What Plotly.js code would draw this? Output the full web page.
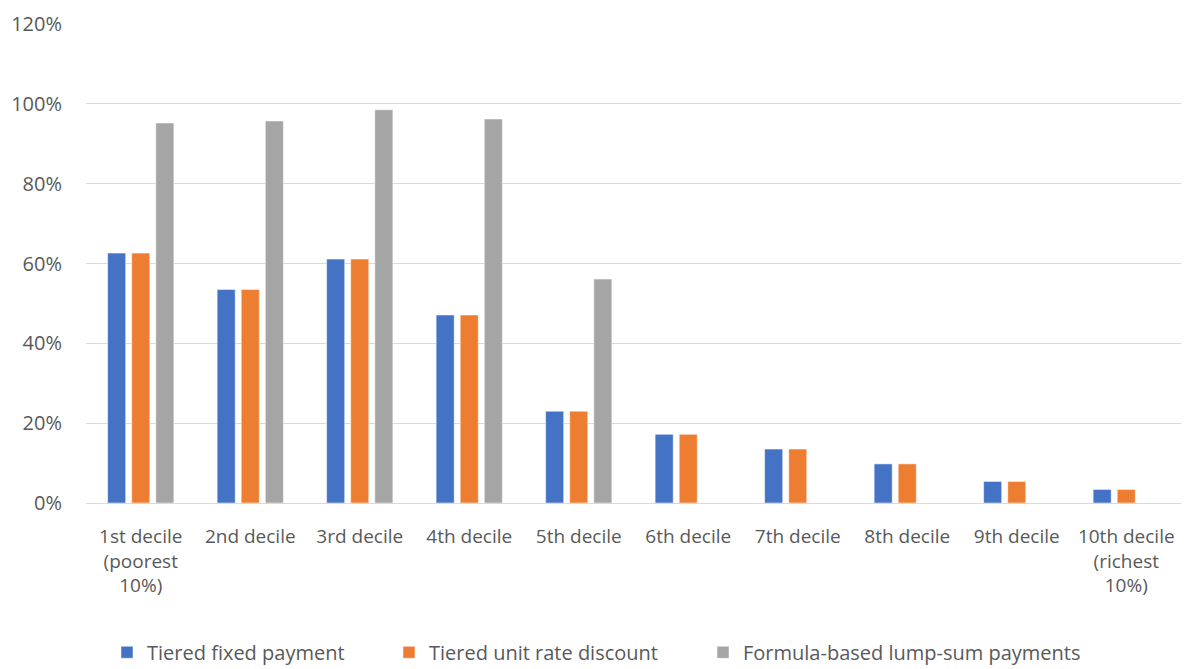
<!DOCTYPE html>
<html>
<head>
<meta charset="utf-8">
<script src="https://cdn.plot.ly/plotly-3.0.1.min.js"></script>
<style>html,body{margin:0;padding:0;background:#fff;}#chart{width:1192px;height:669px;}</style>
</head>
<body>
<div id="chart"></div>
<script>
const categories = ["1st decile<br>(poorest<br>10%)", "2nd decile", "3rd decile", "4th decile", "5th decile",
  "6th decile", "7th decile", "8th decile", "9th decile", "10th decile<br>(richest<br>10%)"];
const seriesNames = ["Tiered fixed payment", "Tiered unit rate discount", "Formula-based lump-sum payments"];
const tieredFixed = [0.626, 0.535, 0.611, 0.471, 0.230, 0.172, 0.135, 0.098, 0.054, 0.034];
const tieredUnit = [0.626, 0.535, 0.611, 0.471, 0.230, 0.172, 0.135, 0.098, 0.054, 0.034];
const formulaLump = [0.952, 0.957, 0.985, 0.962, 0.561, null, null, null, null, null];
const colors = ["#4472C4", "#ED7D31", "#A5A5A5"];
const yTicks = [0, 0.2, 0.4, 0.6, 0.8, 1.0, 1.2];

const allSeries = [tieredFixed, tieredUnit, formulaLump];
const legendIds = ["legend", "legend2", "legend3"];
const traces = allSeries.map((vals, i) => ({
  type: "bar",
  name: seriesNames[i],
  x: categories,
  y: vals,
  legend: legendIds[i],
  marker: {color: colors[i], line: {color: "#ffffff", width: 0.5}},
  hoverinfo: "skip"
}));

const legendPositions = [107, 389, 703];
function legendAt(px) {
  return {orientation: "h", xref: "container", yref: "container", x: px / 1192, xanchor: "left",
    y: 0.025, yanchor: "middle", font: {size: 20, color: "#595959"}, itemwidth: 30,
    bgcolor: "rgba(0,0,0,0)", borderwidth: 0};
}

const layout = {
  width: 1192, height: 669,
  margin: {l: 86, r: 11, t: 24, b: 166},
  paper_bgcolor: "#ffffff", plot_bgcolor: "#ffffff",
  font: {family: "'Open Sans', 'Liberation Sans', sans-serif", size: 19, color: "#595959"},
  barmode: "group",
  bargap: 0.34,
  bargroupgap: 0.25,
  showlegend: true,
  legend: legendAt(legendPositions[0]),
  legend2: legendAt(legendPositions[1]),
  legend3: legendAt(legendPositions[2]),
  xaxis: {type: "category", showgrid: false, showline: false, ticks: "",
    tickfont: {size: 19, color: "#595959"}, ticklabelstandoff: 20, fixedrange: true},
  yaxis: {range: [0, 1.2], tickvals: yTicks, tickformat: ".0%", showgrid: true,
    gridcolor: "#D9D9D9", gridwidth: 1, zeroline: true, zerolinecolor: "#D9D9D9", zerolinewidth: 1,
    showline: false, ticks: "", tickfont: {size: 20, color: "#595959"}, ticklabelstandoff: 23,
    fixedrange: true}
};

Plotly.newPlot("chart", traces, layout, {displayModeBar: false, staticPlot: true});
</script>
</body>
</html>
